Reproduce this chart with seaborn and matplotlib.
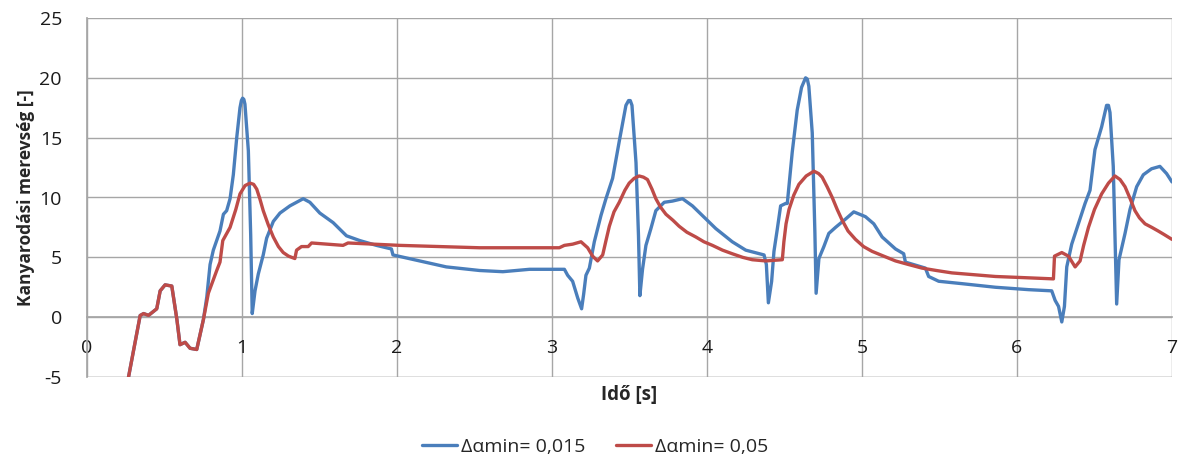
import matplotlib
matplotlib.use("Agg")
import matplotlib.pyplot as plt
import seaborn as sns

# Cornering stiffness over time for two Δαmin settings
t_fine = [0.25, 0.268, 0.343, 0.365, 0.397, 0.45, 0.472, 0.504, 0.547, 0.58, 0.60, 0.633, 0.665, 0.708, 0.751,
          0.773, 0.794, 0.815, 0.858, 0.88, 0.901, 0.923, 0.944, 0.966, 0.987, 0.996, 1.004, 1.012, 1.019, 1.041,
          1.056, 1.066, 1.084, 1.105, 1.137, 1.159, 1.202, 1.245, 1.309, 1.395, 1.438, 1.502, 1.588, 1.674, 1.76,
          1.867, 1.964, 1.974, 2.146, 2.318, 2.533, 2.683, 2.855, 3.08, 3.101, 3.133, 3.166, 3.191, 3.204, 3.219,
          3.241, 3.273, 3.316, 3.348, 3.391, 3.434, 3.477, 3.494, 3.505, 3.516, 3.542, 3.558, 3.567, 3.584, 3.606,
          3.638, 3.67, 3.724, 3.777, 3.842, 3.906, 3.97, 4.057, 4.163, 4.25, 4.368, 4.383, 4.396, 4.417, 4.432,
          4.454, 4.475, 4.507, 4.518, 4.55, 4.582, 4.61, 4.636, 4.647, 4.657, 4.679, 4.696, 4.704, 4.722, 4.754,
          4.786, 4.829, 4.894, 4.947, 5.022, 5.076, 5.13, 5.216, 5.269, 5.28, 5.409, 5.43, 5.495, 5.645, 5.86,
          6.074, 6.224, 6.246, 6.268, 6.289, 6.306, 6.321, 6.353, 6.396, 6.439, 6.471, 6.503, 6.546, 6.578, 6.59,
          6.6, 6.621, 6.636, 6.643, 6.658, 6.697, 6.729, 6.772, 6.815, 6.868, 6.922, 6.965, 7.0]
k_fine = [-6.3, -5.0, 0.14, 0.3, 0.15, 0.7, 2.2, 2.7, 2.6, -0.2, -2.3, -2.1, -2.6, -2.7, -0.2,
          1.7, 4.4, 5.6, 7.2, 8.6, 8.9, 9.9, 11.9, 15.0, 17.5, 18.1, 18.3, 18.2, 17.8, 13.9,
          6.9, 0.3, 2.2, 3.6, 5.2, 6.6, 8.0, 8.7, 9.3, 9.9, 9.6, 8.7, 7.9, 6.8, 6.4,
          6.0, 5.7, 5.2, 4.7, 4.2, 3.9, 3.8, 4.0, 4.0, 3.5, 3.0, 1.6, 0.7, 1.9, 3.5,
          4.1, 6.3, 8.5, 9.9, 11.6, 14.7, 17.7, 18.1, 18.1, 17.7, 12.9, 6.8, 1.8, 4.0, 6.0,
          7.4, 8.9, 9.6, 9.7, 9.9, 9.3, 8.5, 7.4, 6.3, 5.6, 5.2, 4.4, 1.2, 3.0, 5.5,
          7.4, 9.3, 9.5, 9.5, 13.8, 17.3, 19.2, 20.0, 19.9, 19.3, 15.4, 7.1, 2.0, 4.9, 5.9,
          7.0, 7.5, 8.2, 8.8, 8.4, 7.8, 6.7, 5.7, 5.3, 4.6, 4.1, 3.4, 3.0, 2.8, 2.5,
          2.3, 2.2, 1.4, 0.9, -0.4, 0.9, 4.2, 6.1, 7.8, 9.5, 10.6, 14.0, 15.9, 17.7, 17.7,
          17.1, 12.6, 4.8, 1.1, 4.8, 7.0, 9.0, 10.9, 11.9, 12.4, 12.6, 12.0, 11.3]

t_coarse = [0.25, 0.268, 0.343, 0.365, 0.397, 0.45, 0.472, 0.504, 0.547, 0.58, 0.60, 0.633, 0.665, 0.708, 0.751,
            0.783, 0.837, 0.858, 0.876, 0.923, 0.96, 0.987, 1.02, 1.052, 1.075, 1.095, 1.115, 1.137, 1.17,
            1.202, 1.235, 1.266, 1.30, 1.341, 1.352, 1.384, 1.427, 1.449, 1.652, 1.684, 2.017, 2.533, 3.047,
            3.08, 3.133, 3.187, 3.23, 3.262, 3.294, 3.327, 3.35, 3.37, 3.40, 3.434, 3.47, 3.498, 3.53, 3.562,
            3.59, 3.616, 3.645, 3.67, 3.70, 3.735, 3.78, 3.82, 3.87, 3.928, 3.98, 4.035, 4.10, 4.163, 4.23,
            4.292, 4.378, 4.486, 4.496, 4.51, 4.529, 4.56, 4.593, 4.64, 4.69, 4.72, 4.743, 4.775, 4.808, 4.84,
            4.872, 4.91, 4.958, 5.01, 5.065, 5.14, 5.216, 5.30, 5.387, 5.48, 5.58, 5.72, 5.86, 6.05, 6.235,
            6.242, 6.289, 6.332, 6.375, 6.407, 6.43, 6.461, 6.50, 6.546, 6.59, 6.632, 6.665, 6.697, 6.73,
            6.761, 6.79, 6.826, 6.87, 6.911, 6.95, 7.0]
k_coarse = [-6.3, -5.0, 0.14, 0.3, 0.15, 0.7, 2.2, 2.7, 2.6, -0.2, -2.3, -2.1, -2.6, -2.7, -0.2,
            2.0, 3.9, 4.6, 6.4, 7.5, 9.0, 10.3, 11.0, 11.2, 11.1, 10.7, 9.9, 8.9, 7.7,
            6.7, 5.9, 5.4, 5.1, 4.9, 5.6, 5.9, 5.9, 6.2, 6.0, 6.2, 6.0, 5.8, 5.8,
            6.0, 6.1, 6.3, 5.8, 5.1, 4.7, 5.2, 6.5, 7.6, 8.8, 9.6, 10.6, 11.2, 11.6, 11.8,
            11.7, 11.5, 10.7, 9.9, 9.2, 8.6, 8.1, 7.6, 7.1, 6.7, 6.3, 6.0, 5.6, 5.3, 5.0,
            4.8, 4.7, 4.8, 6.3, 7.8, 9.0, 10.2, 11.1, 11.8, 12.2, 12.0, 11.7, 10.9, 10.0, 9.0,
            8.1, 7.2, 6.5, 5.9, 5.5, 5.1, 4.7, 4.4, 4.1, 3.9, 3.7, 3.55, 3.4, 3.3, 3.2,
            5.1, 5.4, 5.1, 4.2, 4.7, 6.0, 7.5, 9.0, 10.3, 11.2, 11.8, 11.5, 10.9, 9.9,
            8.9, 8.3, 7.8, 7.5, 7.2, 6.9, 6.5]

series_labels = ["Δαmin= 0,015", "Δαmin= 0,05"]
series_colors = ["#4A7EBB", "#BE4B48"]
x_ticks = [0, 1, 2, 3, 4, 5, 6, 7]
y_ticks = [-5, 0, 5, 10, 15, 20, 25]

sns.set_theme(style="white")
plt.rcParams["font.family"] = ["Open Sans", "DejaVu Sans"]

fig = plt.figure(figsize=(11.79, 4.61), dpi=100)
ax = fig.add_axes([87 / 1179, 1 - 377 / 461, (1172 - 87) / 1179, (377 - 18) / 461])

sns.lineplot(x=t_fine, y=k_fine, ax=ax, color=series_colors[0], linewidth=2.4,
             label=series_labels[0], sort=False, zorder=3)
sns.lineplot(x=t_coarse, y=k_coarse, ax=ax, color=series_colors[1], linewidth=2.4,
             label=series_labels[1], sort=False, zorder=4)

ax.set_xlim(0, 7)
ax.set_ylim(-5, 25)
ax.set_xticks(x_ticks)
ax.set_yticks(y_ticks)
ax.set_xticklabels([str(v) for v in x_ticks])
ax.set_yticklabels([str(v) for v in y_ticks])

grid_color = "#A6A6A6"
ax.grid(True, color=grid_color, linewidth=1.0)
for side in ["top", "right", "left"]:
    ax.spines[side].set_visible(False)
ax.spines["bottom"].set_position(("data", 0))
ax.spines["bottom"].set_color(grid_color)
ax.spines["left"].set_visible(True)
ax.spines["left"].set_color(grid_color)
ax.axhline(-5, color=grid_color, linewidth=1.0, zorder=1)
ax.tick_params(axis="x", length=0, pad=16, labelsize=14, labelcolor="#1a1a1a")
ax.tick_params(axis="y", length=0, pad=18, labelsize=14, labelcolor="#1a1a1a")

ax.set_xlabel("")
ax.set_ylabel("Kanyarodási merevség [-]", fontsize=12.5, fontweight="bold", labelpad=3)
fig.text((87 + 1172) / 2 / 1179, 1 - 395 / 461, "Idő [s]", ha="center", va="center",
         fontsize=13.5, fontweight="bold")

ax.get_legend().remove()
handles, labels = ax.get_legend_handles_labels()
fig.legend(handles, labels, loc="center", bbox_to_anchor=(595 / 1179, 1 - 447 / 461), ncol=2,
           frameon=False, fontsize=14, handlelength=1.8, handletextpad=0.2, columnspacing=1.6)

fig.savefig("out.png", dpi=100)
